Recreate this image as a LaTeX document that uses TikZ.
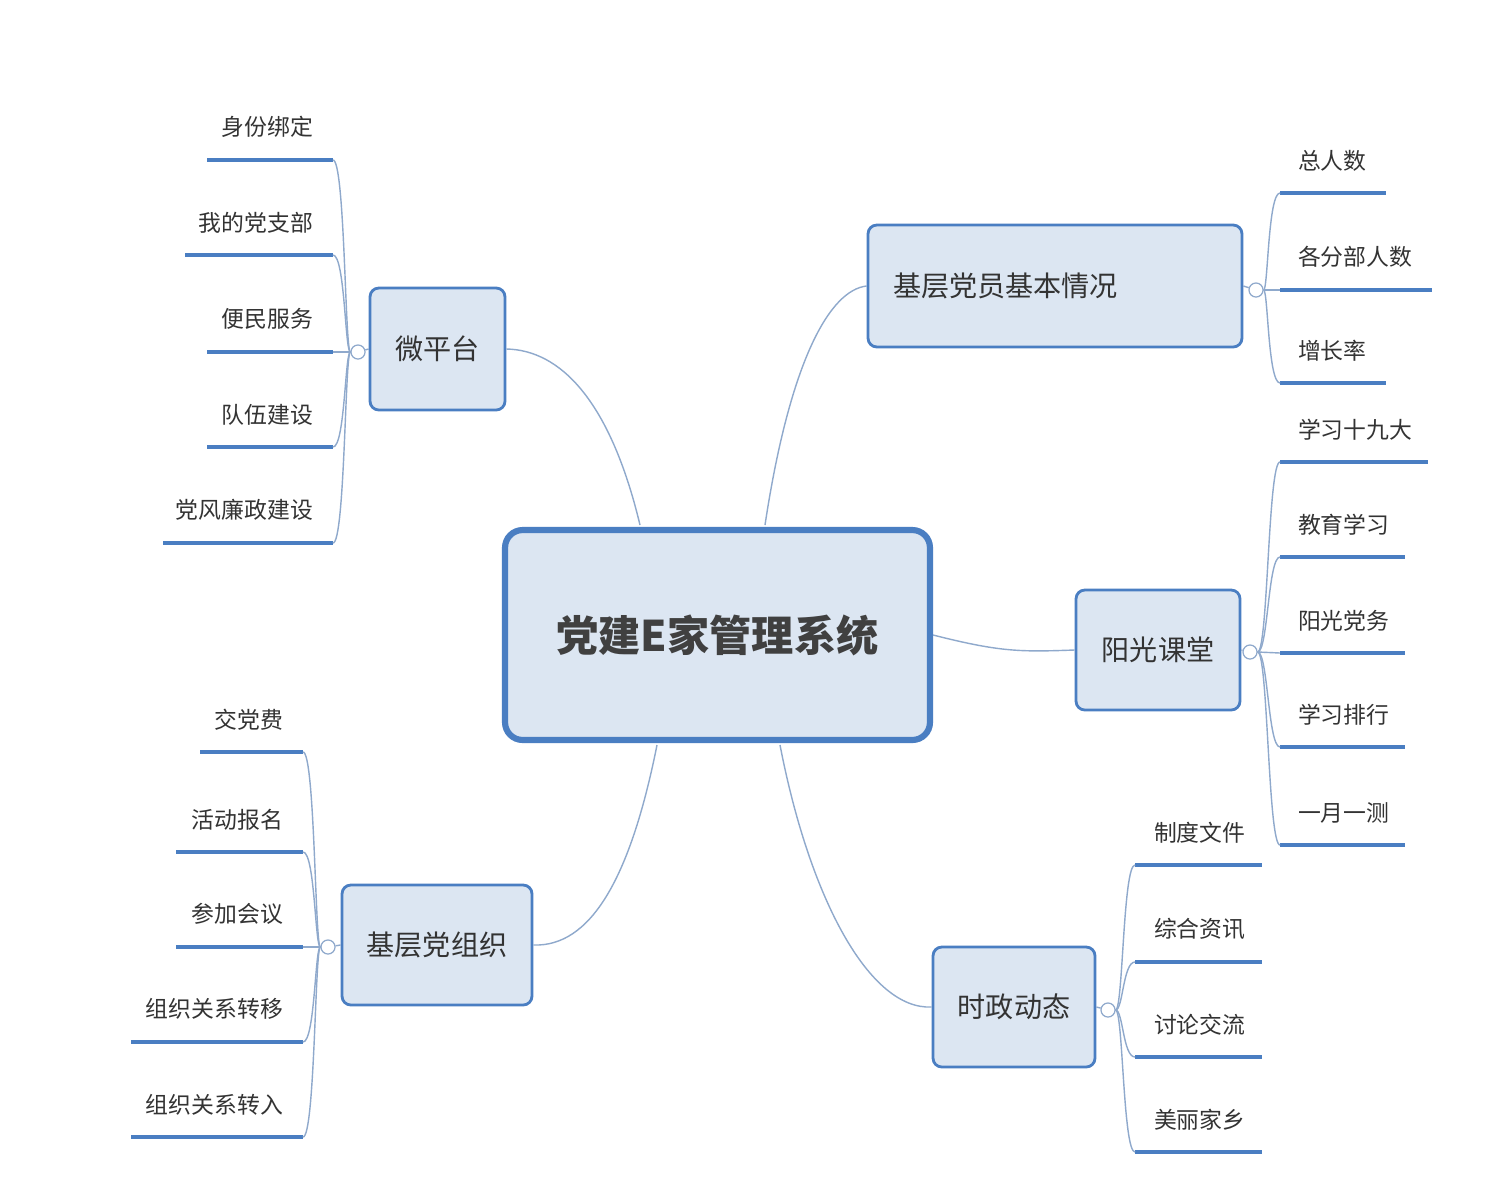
\documentclass[tikz,border=0pt]{standalone}
\usepackage{fontspec}
\setmainfont{Noto Sans CJK SC}
\definecolor{bfill}{HTML}{DCE6F2}
\definecolor{bline}{HTML}{4A7EC2}
\definecolor{cline}{HTML}{8FA9CC}
\begin{document}
\begin{tikzpicture}[x=0.02cm,y=-0.02cm,
  topic/.style={draw=bline,line width=1.6pt,fill=bfill,rounded corners=5pt,inner sep=0pt,font=\fontsize{16}{18}\selectfont,text=black!80},
  leaftxt/.style={font=\fontsize{13}{15}\selectfont,text=black!80,inner sep=1pt},
  uline/.style={draw=bline,line width=2.6pt},
  conn/.style={draw=cline,line width=0.8pt},
  knob/.style={circle,draw=cline,fill=white,line width=0.7pt,minimum size=8pt,inner sep=0pt}]
\useasboundingbox (0,0) rectangle (1507,1201);
\fill[white] (0,0) rectangle (1507,1201);
% topics
\node[topic,line width=3.5pt,rounded corners=10pt,minimum width=8.5cm,minimum height=4.2cm,font=\fontsize{24}{28}\selectfont\bfseries,text=black!75] (C) at (717.5,635) {党建E家管理系统};
\node[topic,minimum width=2.7cm,minimum height=2.44cm] (W) at (437.5,349) {微平台};
\node[topic,minimum height=2.44cm,inner xsep=0.5cm,text width=6.48cm,align=left] (J) at (1055,286) {基层党员基本情况};
\node[topic,minimum width=3.28cm,minimum height=2.4cm] (Y) at (1158,650) {阳光课堂};
\node[topic,minimum width=3.8cm,minimum height=2.4cm] (Z) at (437,945) {基层党组织};
\node[topic,minimum width=3.24cm,minimum height=2.4cm] (S) at (1014,1007) {时政动态};
% main connectors
\coordinate (c1) at (640,525); \coordinate (c2) at (765,525);
\coordinate (c4) at (657,745); \coordinate (c5) at (780,745);
\draw[conn] (c1) .. controls (610,400) and (560,350) .. (W.east);
\draw[conn] (c2) .. controls (790,360) and (830,290) .. (J.west);
\draw[conn] (C.east) .. controls (1000,652) and (1020,652) .. (Y.west);
\draw[conn] (c4) .. controls (630,880) and (590,947) .. (Z.east);
\draw[conn] (c5) .. controls (810,900) and (870,1010) .. (S.west);
% knobs
\node[knob] (kW) at (358,352) {};
\node[knob] (kJ) at (1256,290) {};
\node[knob] (kY) at (1250,652) {};
\node[knob] (kZ) at (328,947) {};
\node[knob] (kS) at (1108,1010) {};
\draw[conn] (W.west)--(kW); \draw[conn] (J.east)--(kJ); \draw[conn] (Y.east)--(kY);
\draw[conn] (Z.west)--(kZ); \draw[conn] (S.east)--(kS);
% left leaves: 微平台
\foreach \t/\y/\s [count=\i] in {身份绑定/160/207,我的党支部/255/185,便民服务/352/207,队伍建设/447/207,党风廉政建设/543/163}{
  \coordinate (wa\i) at (\s,\y); \coordinate (wb\i) at (333,\y);
  \draw[uline] (wa\i)--(wb\i);
  \node[leaftxt,anchor=south east] (wt\i) at (315,\y-20) {\t};
  \draw[conn] (kW.west) .. controls (345,352) and (345,\y) .. (wb\i);
}
% left leaves: 基层党组织
\foreach \t/\y/\s [count=\i] in {交党费/752/200,活动报名/852/176,参加会议/947/176,组织关系转移/1042/131,组织关系转入/1137/131}{
  \coordinate (za\i) at (\s,\y); \coordinate (zb\i) at (303,\y);
  \draw[uline] (za\i)--(zb\i);
  \node[leaftxt,anchor=south east] (zt\i) at (285,\y-20) {\t};
  \draw[conn] (kZ.west) .. controls (315,947) and (315,\y) .. (zb\i);
}
% right leaves: 基层党员基本情况
\foreach \t/\y/\e [count=\i] in {总人数/193/1386,各分部人数/290/1432,增长率/383/1386}{
  \coordinate (ja\i) at (1280,\y); \coordinate (jb\i) at (\e,\y);
  \draw[uline] (ja\i)--(jb\i);
  \node[leaftxt,anchor=south west] (jt\i) at (1296,\y-20) {\t};
  \draw[conn] (kJ.east) .. controls (1268,290) and (1268,\y) .. (ja\i);
}
% right leaves: 阳光课堂
\foreach \t/\y/\e [count=\i] in {学习十九大/462/1428,教育学习/557/1405,阳光党务/653/1405,学习排行/747/1405,一月一测/845/1405}{
  \coordinate (ya\i) at (1280,\y); \coordinate (yb\i) at (\e,\y);
  \draw[uline] (ya\i)--(yb\i);
  \node[leaftxt,anchor=south west] (yt\i) at (1296,\y-20) {\t};
  \draw[conn] (kY.east) .. controls (1268,652) and (1268,\y) .. (ya\i);
}
% right leaves: 时政动态
\foreach \t/\y [count=\i] in {制度文件/865,综合资讯/962,讨论交流/1057,美丽家乡/1152}{
  \coordinate (sa\i) at (1135,\y); \coordinate (sb\i) at (1262,\y);
  \draw[uline] (sa\i)--(sb\i);
  \node[leaftxt,anchor=south west] (st\i) at (1152,\y-20) {\t};
  \draw[conn] (kS.east) .. controls (1123,1010) and (1123,\y) .. (sa\i);
}
\end{tikzpicture}
\end{document}
